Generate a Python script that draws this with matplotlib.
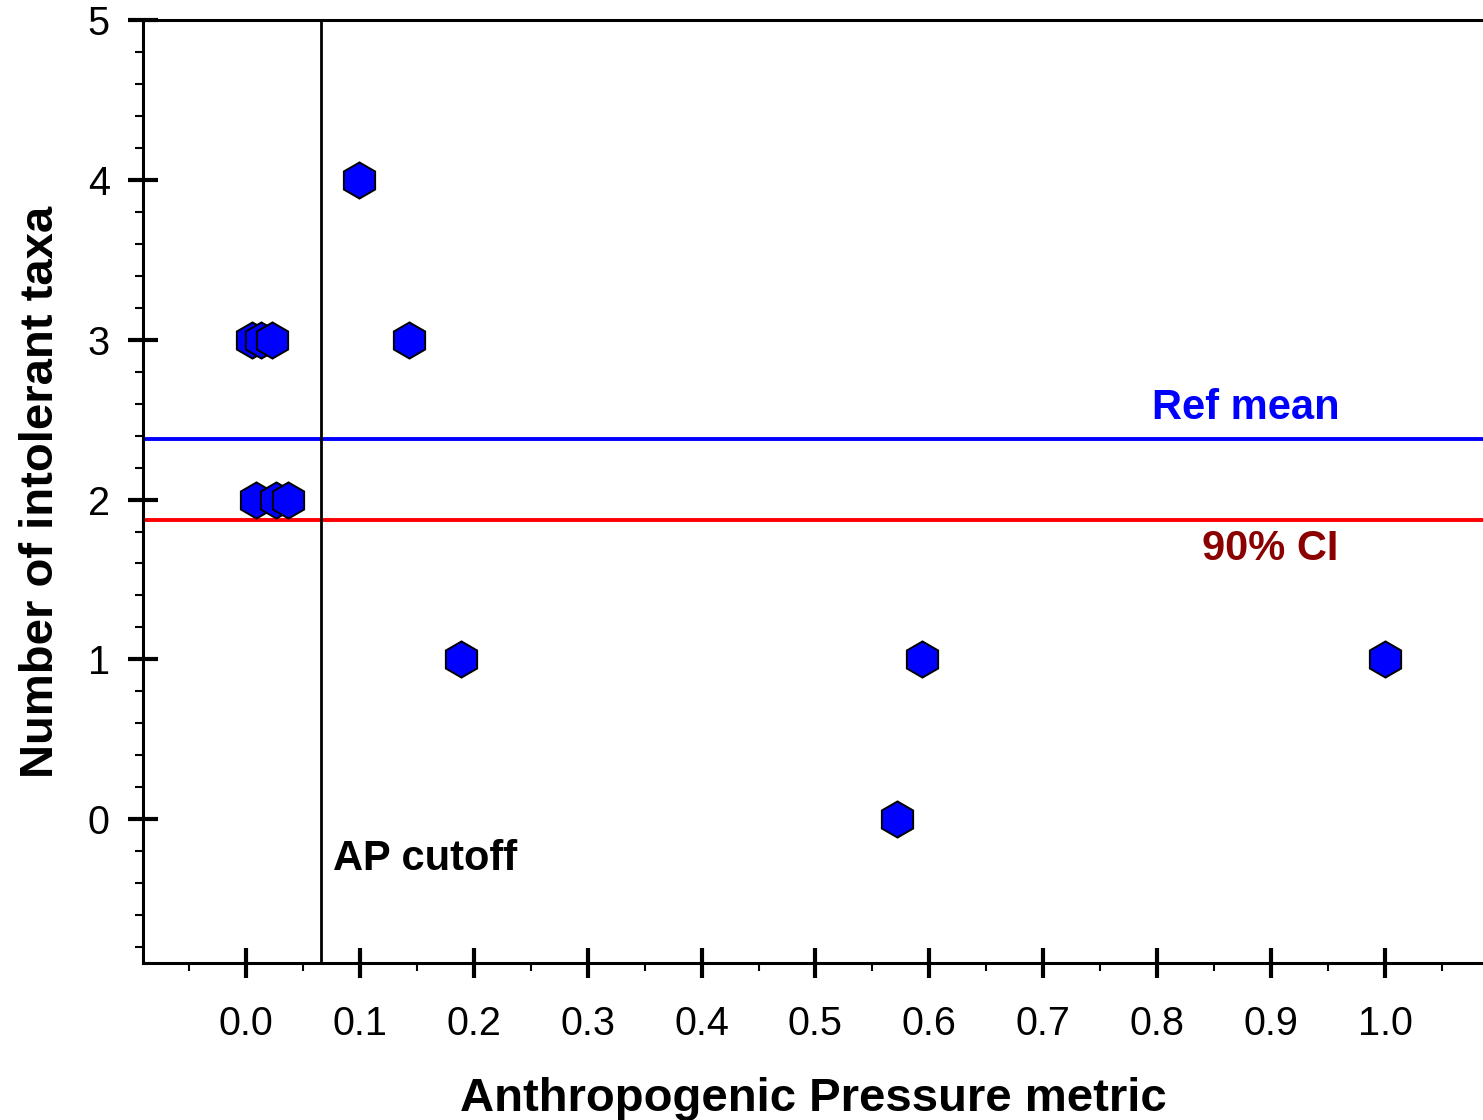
import numpy as np
import matplotlib
matplotlib.use("Agg")
import matplotlib.pyplot as plt
from matplotlib.ticker import MultipleLocator

# site values
ap_metric = [0.0053, 0.013, 0.0228, 0.0088, 0.0263, 0.0369,
             0.0992, 0.143, 0.189, 0.5935, 1.0, 0.5716]
intolerant_taxa = [3, 3, 3, 2, 2, 2, 4, 3, 1, 1, 1, 0]

ref_mean = 2.38
ci_90 = 1.875
ap_cutoff = 0.066

x_ticks = [0.0, 0.1, 0.2, 0.3, 0.4, 0.5, 0.6, 0.7, 0.8, 0.9, 1.0]
y_ticks = [0, 1, 2, 3, 4, 5]

plt.rcParams['font.family'] = ['Liberation Sans', 'DejaVu Sans']

fig = plt.figure(figsize=(14.83, 11.2), dpi=100)
ax = fig.add_axes([0.0964, 0.1402, 0.9036, 0.8418])

# reference lines
ax.axhline(ref_mean, color='#0000ff', lw=2.8, zorder=1)
ax.axhline(ci_90, color='#ff0000', lw=2.8, zorder=1)
ax.axvline(ap_cutoff, color='black', lw=2.0, zorder=1)

# points
ax.plot(ap_metric, intolerant_taxa, linestyle='none', marker='h',
        markersize=26, markerfacecolor='#0000ff', markeredgecolor='black',
        markeredgewidth=1.4, zorder=3)

ax.text(0.878, 2.445, 'Ref mean', color='#0000ff', fontsize=30,
        fontweight='bold', ha='center', va='bottom')
ax.text(0.899, 1.815, '90% CI', color='#8b0000', fontsize=30,
        fontweight='bold', ha='center', va='top')
ax.text(0.0764, -0.25, 'AP cutoff', color='black', fontsize=30,
        fontweight='bold', ha='left', va='center')

ax.set_xlim(-0.0904, 1.086)
ax.set_ylim(-0.9, 5.0)
ax.set_xticks(x_ticks)
ax.set_yticks(y_ticks)
ax.xaxis.set_minor_locator(MultipleLocator(0.05))
ax.yaxis.set_minor_locator(MultipleLocator(0.2))
ax.set_xticklabels([f'{v:.1f}' for v in x_ticks])

ax.tick_params(which='major', direction='inout', length=22, width=3,
               labelsize=28.5)
ax.tick_params(axis='x', which='major', pad=19)
ax.tick_params(axis='y', which='major', pad=13)
ax.tick_params(which='minor', direction='out', length=6, width=1.5)

for side in ['left', 'bottom', 'top']:
    ax.spines[side].set_linewidth(2.2)
ax.spines['right'].set_visible(False)

ax.set_xlabel('Anthropogenic Pressure metric', fontsize=34,
              fontweight='bold', labelpad=25)
ax.set_ylabel('Number of intolerant taxa', fontsize=34,
              fontweight='bold', labelpad=18)

fig.savefig('out.png', dpi=100)
